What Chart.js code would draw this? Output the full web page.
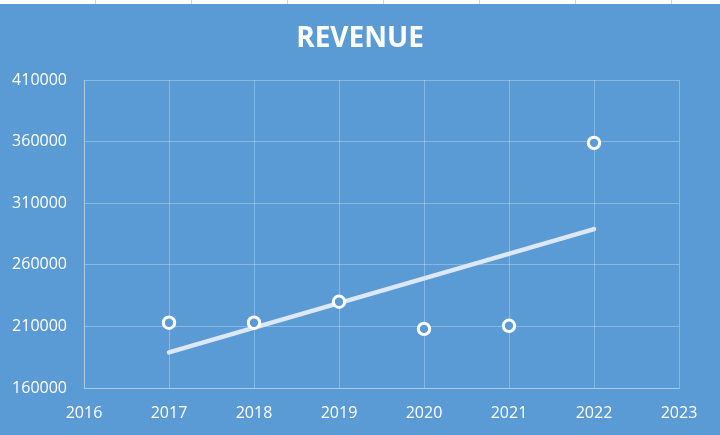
<!DOCTYPE html>
<html>
<head>
<meta charset="utf-8">
<script src="https://cdn.jsdelivr.net/npm/chart.js@4/dist/chart.umd.min.js"></script>
<style>
  html,body{margin:0;padding:0;background:#fff;}
  #wrap{position:relative;width:720px;height:435px;overflow:hidden;}
  canvas{display:block;}
</style>
</head>
<body>
<div id="wrap"><canvas id="c" width="720" height="435"></canvas></div>
<script>
const years = [2017, 2018, 2019, 2020, 2021, 2022];
const revenue = [213000, 213000, 230000, 208000, 210500, 359000];
const xTicks = [2016, 2017, 2018, 2019, 2020, 2021, 2022, 2023];
const yTicks = [160000, 210000, 260000, 310000, 360000, 410000];
const titleText = 'REVENUE';

// linear trendline from the data (least squares)
const n = years.length;
const mx = years.reduce((a,b)=>a+b,0)/n;
const my = revenue.reduce((a,b)=>a+b,0)/n;
let sxy = 0, sxx = 0;
for (let i=0;i<n;i++){ sxy += (years[i]-mx)*(revenue[i]-my); sxx += (years[i]-mx)**2; }
const slope = sxy/sxx, icpt = my - slope*mx;
const trend = [years[0], years[n-1]].map(x => ({x, y: icpt + slope*x}));

const BG = '#5B9BD5';
const GRID = 'rgba(255,255,255,0.28)';

const bgPlugin = {
  id: 'bg',
  beforeDraw(chart){
    const ctx = chart.ctx;
    ctx.save();
    ctx.fillStyle = BG;
    ctx.fillRect(0,0,chart.width,chart.height);
    ctx.fillStyle = '#ffffff';
    ctx.fillRect(0,0,chart.width,4);
    ctx.fillStyle = '#d4d4d4';
    [95,191,287,383,479,575,671].forEach(x => ctx.fillRect(x,0,1,4));
    ctx.restore();
  }
};

new Chart(document.getElementById('c'), {
  type: 'scatter',
  data: {
    datasets: [
      {
        label: 'Revenue',
        data: years.map((x,i)=>({x, y: revenue[i]})),
        pointRadius: 5.7,
        pointHoverRadius: 5.7,
        pointBorderWidth: 3,
        pointBackgroundColor: BG,
        pointBorderColor: '#ffffff',
        showLine: false,
        order: 0
      },
      {
        type: 'line',
        label: 'Trend',
        data: trend,
        borderColor: '#DCE8F5',
        borderWidth: 4.5,
        borderCapStyle: 'round',
        pointRadius: 0,
        fill: false,
        order: 1
      }
    ]
  },
  options: {
    responsive: false,
    animation: false,
    devicePixelRatio: 1,
    layout: { padding: { left: 0, right: 0, top: 4, bottom: 0 } },
    plugins: {
      legend: { display: false },
      tooltip: { enabled: false },
      title: {
        display: true,
        text: titleText,
        color: '#ffffff',
        font: { family: 'Open Sans', size: 28, weight: 'bold' },
        padding: { top: 18, bottom: 24.4 }
      }
    },
    scales: {
      x: {
        type: 'linear',
        min: 2016, max: 2023,
        afterBuildTicks(s){ s.ticks = xTicks.map(v=>({value:v})); },
        afterFit(s){ s.height = 47; },
        grid: { color: GRID, lineWidth: 1, drawTicks: false },
        border: { color: GRID, width: 1 },
        ticks: {
          color: '#ffffff',
          padding: 16,
          font: { family: 'Open Sans', size: 16 },
          callback: v => String(v)
        }
      },
      y: {
        min: 160000, max: 410000,
        afterBuildTicks(s){ s.ticks = yTicks.map(v=>({value:v})); },
        afterFit(s){ s.width = 84; },
        grid: { color: GRID, lineWidth: 1, drawTicks: false },
        border: { color: GRID, width: 1 },
        ticks: {
          color: '#ffffff',
          padding: 17,
          font: { family: 'Open Sans', size: 16 },
          callback: v => String(v)
        }
      },
      yR: {
        position: 'right',
        display: true,
        min: 160000, max: 410000,
        afterFit(s){ s.width = 41; },
        grid: { display: false, drawTicks: false },
        border: { display: false },
        ticks: { display: false }
      }
    }
  },
  plugins: [bgPlugin]
});
</script>
</body>
</html>
